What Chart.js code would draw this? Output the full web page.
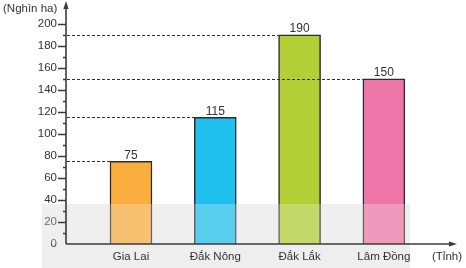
<!DOCTYPE html>
<html>
<head>
<meta charset="utf-8">
<script src="https://cdn.jsdelivr.net/npm/chart.js@4.4.1/dist/chart.umd.min.js"></script>
<style>
  html, body { margin: 0; padding: 0; background: #ffffff; }
  #wrap { width: 466px; height: 268px; position: relative; }
</style>
</head>
<body>
<div id="wrap"><canvas id="c" width="466" height="268"></canvas></div>
<script>
// Diện tích trồng cà phê theo tỉnh (nghìn ha)
const provinces = ['Gia Lai', 'Đắk Nông', 'Đắk Lắk', 'Lâm Đồng'];
const areaValues = [75, 115, 190, 150];
const yTickValues = [0, 20, 40, 60, 80, 100, 120, 140, 160, 180, 200];
const yUnitLabel = '(Nghìn ha)';
const xUnitLabel = '(Tỉnh)';

const barFill = ['#f9ae3f', '#1fc0ee', '#b3cf36', '#ee76a8'];
const ink = '#333333';
const font = '"Liberation Sans", Arial, sans-serif';

// Axes, arrows, tick marks, guide lines and value labels
const axisDecor = {
  id: 'axisDecor',
  beforeDraw(chart) {
    const ctx = chart.ctx;
    ctx.save();
    // soft light band in the lower part of the plot
    ctx.fillStyle = '#eeeeee';
    ctx.fillRect(42, 204, 368, 64);
    ctx.restore();
  },
  afterDatasetsDraw(chart) {
    const ctx = chart.ctx;
    const xs = chart.scales.x, ys = chart.scales.y;
    const x0 = xs.left, y0 = ys.getPixelForValue(0);
    const meta = chart.getDatasetMeta(0);
    ctx.save();

    // light veil over the lower band
    ctx.fillStyle = 'rgba(245,245,245,0.28)';
    ctx.fillRect(42, 204, 368, y0 - 204);

    // dashed guides from the y axis to each bar top
    ctx.strokeStyle = ink;
    ctx.lineWidth = 1;
    ctx.setLineDash([3, 2]);
    meta.data.forEach((bar, i) => {
      const yTop = Math.round(ys.getPixelForValue(areaValues[i])) + 0.5;
      const left = bar.x - bar.width / 2;
      ctx.beginPath();
      ctx.moveTo(x0 + 1, yTop);
      ctx.lineTo(left, yTop);
      ctx.stroke();
    });
    ctx.setLineDash([]);

    // y axis with arrow
    ctx.strokeStyle = '#3a3a3a';
    ctx.fillStyle = '#3a3a3a';
    ctx.lineWidth = 1.6;
    ctx.beginPath();
    ctx.moveTo(x0, y0);
    ctx.lineTo(x0, ys.top + 2);
    ctx.stroke();
    ctx.beginPath();
    ctx.moveTo(x0, ys.top - 3);
    ctx.lineTo(x0 - 2.6, ys.top + 5);
    ctx.lineTo(x0 + 2.6, ys.top + 5);
    ctx.closePath();
    ctx.fill();

    // x axis with arrow
    const xEnd = xs.right;
    ctx.beginPath();
    ctx.moveTo(x0, y0);
    ctx.lineTo(xEnd - 2, y0);
    ctx.stroke();
    ctx.beginPath();
    ctx.moveTo(xEnd + 3, y0);
    ctx.lineTo(xEnd - 5, y0 - 2.6);
    ctx.lineTo(xEnd - 5, y0 + 2.6);
    ctx.closePath();
    ctx.fill();

    // tick marks: long every 20, short every 10
    ctx.lineWidth = 1.5;
    for (let v = 10; v <= 200; v += 10) {
      const py = Math.round(ys.getPixelForValue(v)) + 0.5;
      const len = v % 20 === 0 ? 8 : 3;
      ctx.beginPath();
      ctx.moveTo(x0 - len, py);
      ctx.lineTo(x0, py);
      ctx.stroke();
    }

    // value labels above bars
    ctx.fillStyle = ink;
    ctx.font = '12px ' + font;
    ctx.textAlign = 'center';
    ctx.textBaseline = 'alphabetic';
    meta.data.forEach((bar, i) => {
      ctx.fillText(String(areaValues[i]), bar.x, bar.y - 2.5);
    });

    // unit titles
    ctx.font = '11.5px ' + font;
    ctx.textAlign = 'left';
    ctx.textBaseline = 'middle';
    ctx.fillText(yUnitLabel, 3, 9);
    ctx.fillText(xUnitLabel, 432, 257);

    ctx.restore();
  }
};

new Chart(document.getElementById('c'), {
  type: 'bar',
  data: {
    datasets: [{
      data: provinces.map((p, i) => ({ x: i + 1, y: areaValues[i] })),
      backgroundColor: barFill,
      borderColor: '#2b2b2b',
      borderWidth: 1.5,
      barThickness: 42
    }]
  },
  options: {
    responsive: false,
    animation: false,
    events: [],
    layout: { padding: { top: 4, right: 12, left: 0, bottom: 0 } },
    plugins: { legend: { display: false }, tooltip: { enabled: false } },
    scales: {
      x: {
        type: 'linear',
        offset: false,
        min: 0.229,
        max: 4.832,
        grid: { display: false, drawTicks: false, offset: false },
        border: { display: false },
        afterBuildTicks(scale) {
          scale.ticks = provinces.map((p, i) => ({ value: i + 1 }));
        },
        afterFit(scale) {
          scale.height = 24;
          scale.paddingLeft = 0;
          scale.paddingRight = 0;
        },
        ticks: {
          autoSkip: false,
          maxRotation: 0,
          padding: 6,
          color: ink,
          font: { family: font, size: 11.5 },
          callback: (v) => provinces[Math.round(v) - 1] || ''
        }
      },
      y: {
        type: 'linear',
        min: 0,
        max: 218,
        grid: { display: false, drawTicks: false },
        border: { display: false },
        afterBuildTicks(scale) {
          scale.ticks = yTickValues.map(v => ({ value: v }));
        },
        afterFit(scale) {
          scale.width = 66;
          scale.paddingTop = 0;
          scale.paddingBottom = 0;
        },
        ticks: {
          padding: 9,
          color: ink,
          font: { family: font, size: 11.5 }
        }
      }
    }
  },
  plugins: [axisDecor]
});
</script>
</body>
</html>
